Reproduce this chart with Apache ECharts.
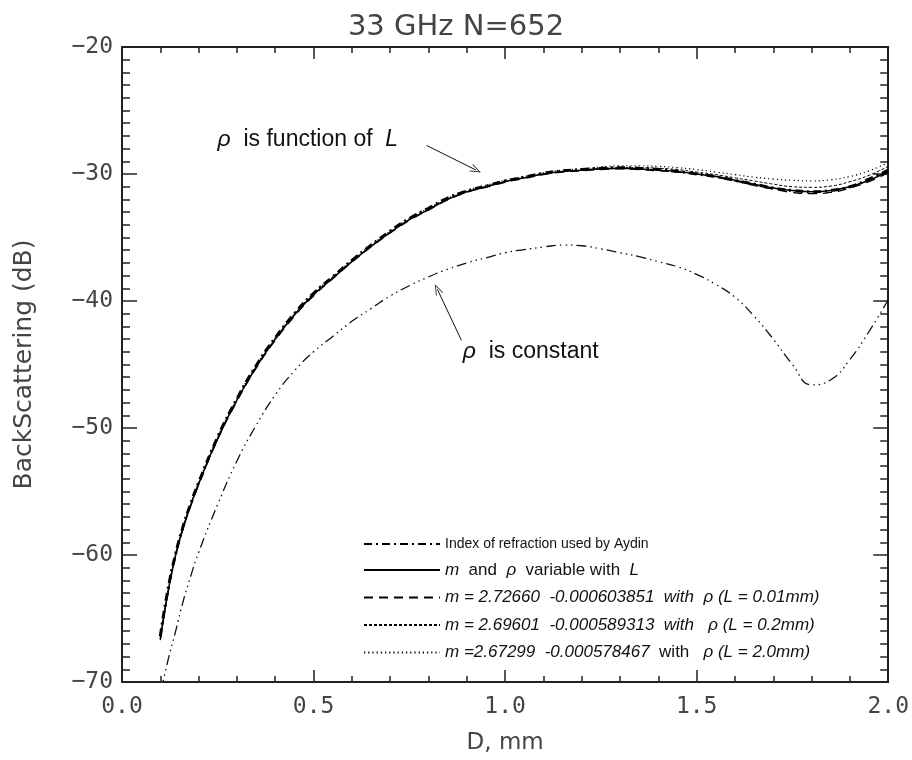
<!DOCTYPE html>
<html><head><meta charset="utf-8">
<script src="https://cdn.jsdelivr.net/npm/echarts@6/dist/echarts.min.js"></script>
<style>html,body{margin:0;padding:0;background:#fff}#c{width:912px;height:760px}</style>
</head><body><div id="c"></div>
<script>
// D (mm)
const dValues = [0.10,0.12,0.14,0.16,0.18,0.20,0.25,0.30,0.35,0.40,0.45,0.50,0.55,0.60,0.65,0.70,0.75,0.80,0.85,0.90,0.95,1.00,1.05,1.10,1.15,1.20,1.25,1.30,1.35,1.40,1.45,1.50,1.55,1.60,1.65,1.70,1.75,1.80,1.85,1.90,1.95,2.00];
// Backscattering (dB)
const aydin      = [-66.4,-62.7,-59.9,-57.7,-55.9,-54.3,-50.7,-47.7,-45.1,-42.9,-41.0,-39.4,-38.1,-36.8,-35.6,-34.5,-33.5,-32.7,-31.9,-31.35,-30.95,-30.55,-30.25,-29.95,-29.75,-29.65,-29.55,-29.5,-29.55,-29.65,-29.8,-30.0,-30.2,-30.5,-30.8,-31.1,-31.3,-31.4,-31.3,-31.0,-30.4,-29.7];
const variableL  = [-66.6,-62.9,-60.0,-57.8,-56.0,-54.4,-50.8,-47.8,-45.2,-43.0,-41.1,-39.5,-38.2,-36.9,-35.7,-34.6,-33.6,-32.8,-32.0,-31.4,-31.0,-30.6,-30.3,-30.0,-29.8,-29.7,-29.6,-29.55,-29.6,-29.7,-29.8,-30.0,-30.2,-30.5,-30.8,-31.1,-31.3,-31.4,-31.3,-31.0,-30.5,-29.8];
const fixedL001  = [-66.7,-63.0,-60.1,-57.9,-56.1,-54.5,-50.9,-47.9,-45.3,-43.1,-41.2,-39.6,-38.25,-36.95,-35.75,-34.65,-33.65,-32.85,-32.05,-31.45,-31.05,-30.65,-30.35,-30.05,-29.85,-29.75,-29.65,-29.6,-29.65,-29.75,-29.85,-30.0,-30.25,-30.55,-30.9,-31.2,-31.45,-31.55,-31.45,-31.1,-30.6,-29.9];
const fixedL02   = [-66.6,-62.9,-60.0,-57.8,-56.0,-54.4,-50.8,-47.8,-45.2,-43.0,-41.1,-39.5,-38.2,-36.9,-35.7,-34.6,-33.6,-32.8,-32.0,-31.4,-31.0,-30.6,-30.3,-30.0,-29.8,-29.7,-29.55,-29.5,-29.5,-29.55,-29.65,-29.85,-30.05,-30.3,-30.55,-30.8,-31.0,-31.05,-30.95,-30.6,-30.1,-29.4];
const fixedL20   = [-66.5,-62.8,-59.9,-57.7,-55.9,-54.3,-50.7,-47.7,-45.1,-42.9,-41.0,-39.4,-38.1,-36.8,-35.6,-34.5,-33.5,-32.7,-31.9,-31.3,-30.9,-30.5,-30.2,-29.9,-29.7,-29.6,-29.45,-29.35,-29.35,-29.4,-29.5,-29.65,-29.85,-30.05,-30.25,-30.4,-30.5,-30.55,-30.45,-30.2,-29.75,-29.1];
const rhoConstant= [-71.0,-68.3,-66.0,-63.6,-61.6,-59.8,-56.0,-52.6,-49.8,-47.4,-45.5,-44.0,-42.8,-41.6,-40.6,-39.6,-38.8,-38.1,-37.5,-37.0,-36.6,-36.2,-35.95,-35.75,-35.6,-35.65,-35.9,-36.2,-36.5,-36.9,-37.3,-37.9,-38.7,-39.7,-41.2,-43.0,-45.0,-46.6,-46.2,-44.6,-42.4,-39.9];

const xRange = [0, 2.0];
const yRange = [-70, -20];
const legendNames = ['aydin','variable','L001','L02','L20'];

function pairs(ys){ return dValues.map((d,i)=>[d, ys[i]]); }

const chart = echarts.init(document.getElementById('c'), null, {renderer:'canvas'});
const FONT = 'Liberation Sans';
const TICKFONT = 'DejaVu Sans Mono';
const axisCommon = {
  type:'value', splitLine:{show:false},
  axisLine:{onZero:false, lineStyle:{color:'#222', width:2}},
  axisTick:{inside:true, lineStyle:{color:'#222', width:1.5}},
  minorTick:{show:true, lineStyle:{color:'#222', width:1.5}},
  minorSplitLine:{show:false}
};
const rhoSym = '\u03c1';
const chevron = 'path://M5,0 L10,10 L9,10 L5,2 L1,10 L0,10 Z';

chart.setOption({
  animation:false,
  backgroundColor:'#fff',
  title:{text:'33 GHz N=652', left:'center', top:8, textStyle:{fontFamily:'DejaVu Sans', fontSize:29, fontWeight:'normal', color:'#444'}},
  grid:{left:122, right:21, top:47, bottom:68},
  xAxis:[
    Object.assign({}, axisCommon, {min:xRange[0], max:xRange[1], interval:0.5, position:'bottom',
      name:'D, mm', nameLocation:'middle', nameGap:50, nameTextStyle:{fontFamily:'DejaVu Sans', fontSize:23, color:'#444'},
      axisTick:Object.assign({}, axisCommon.axisTick, {length:12}),
      minorTick:Object.assign({}, axisCommon.minorTick, {splitNumber:5, length:6}),
      axisLabel:{fontFamily:TICKFONT, fontSize:23, color:'#444', margin:14, formatter:v=>v.toFixed(1)}}),
    Object.assign({}, axisCommon, {min:xRange[0], max:xRange[1], interval:0.5, position:'top',
      axisTick:Object.assign({}, axisCommon.axisTick, {length:12}),
      minorTick:Object.assign({}, axisCommon.minorTick, {splitNumber:5, length:6}),
      axisLabel:{show:false}})
  ],
  yAxis:[
    Object.assign({}, axisCommon, {min:yRange[0], max:yRange[1], interval:10, position:'left',
      name:'BackScattering (dB)', nameLocation:'middle', nameGap:85, nameTextStyle:{fontFamily:'DejaVu Sans', fontSize:25, color:'#444'},
      axisTick:Object.assign({}, axisCommon.axisTick, {length:15}),
      minorTick:Object.assign({}, axisCommon.minorTick, {splitNumber:10, length:8}),
      axisLabel:{fontFamily:TICKFONT, fontSize:23, color:'#444', margin:9, formatter:v=>(v<0?'\u2212':'')+Math.abs(v)}}),
    Object.assign({}, axisCommon, {min:yRange[0], max:yRange[1], interval:10, position:'right',
      axisTick:Object.assign({}, axisCommon.axisTick, {length:15}),
      minorTick:Object.assign({}, axisCommon.minorTick, {splitNumber:10, length:8}),
      axisLabel:{show:false}})
  ],
  legend:{
    data:legendNames, orient:'vertical', left:358, top:532, itemWidth:76, itemHeight:14, itemGap:10.5,
    selectedMode:false,
    itemStyle:{opacity:0, borderWidth:0},
    textStyle:{fontFamily:FONT, color:'#111', fontSize:17,
      rich:{
        n:{fontFamily:FONT, fontSize:17, color:'#111', lineHeight:20},
        s:{fontFamily:FONT, fontSize:14, color:'#111', lineHeight:20},
        i:{fontFamily:FONT, fontSize:17, fontStyle:'italic', color:'#111', lineHeight:20}
      }},
    formatter:function(name){
      switch(name){
        case 'aydin': return '{s|Index of refraction used by Aydin}';
        case 'variable': return '{i|m}{n|  and  }{i|'+rhoSym+'}{n|  variable with  }{i|L}';
        case 'L001': return '{i|m = 2.72660  -0.000603851  with  '+rhoSym+' (L = 0.01mm)}';
        case 'L02': return '{i|m = 2.69601  -0.000589313  with   '+rhoSym+' (L = 0.2mm)}';
        case 'L20': return '{i|m =2.67299  -0.000578467}{n|  with   }{i|'+rhoSym+' (L = 2.0mm)}';
      }
      return name;
    }
  },
  series:[
    {name:'constant', type:'line', data:pairs(rhoConstant), smooth:0.5, symbol:'none', clip:true,
     itemStyle:{color:'#000'},
     lineStyle:{color:'#111', width:1.3, type:[10,4,1.5,4,1.5,4,1.5,4]},
     markPoint:{silent:true, symbol:'rect', symbolSize:1, itemStyle:{color:'rgba(0,0,0,0)'},
       label:{show:true, position:'right', distance:0, color:'#111', fontFamily:FONT, fontSize:23,
         rich:{r:{fontFamily:FONT, fontSize:23, fontStyle:'italic', color:'#111'}, t:{fontFamily:FONT, fontSize:23, color:'#111'}}},
       data:[
         {coord:[0.248,-27.3], label:{formatter:'{r|'+rhoSym+'}{t|  is function of  }{r|L}'}},
         {coord:[0.888,-44.0], label:{formatter:'{r|'+rhoSym+'}{t|  is constant}'}}
       ]},
     markLine:{silent:true, symbol:['none', chevron], symbolSize:[8,11], label:{show:false},
       lineStyle:{color:'#111', width:1, type:'solid'},
       data:[
         [{coord:[0.795,-27.75]},{coord:[0.924,-29.69]}],
         [{coord:[0.886,-43.1]},{coord:[0.823,-39.07]}]
       ]}
    },
    {name:'aydin', type:'line', data:pairs(aydin), smooth:0.5, symbol:'none', itemStyle:{color:'#000'},
     lineStyle:{color:'#000', width:3, type:[8,4,2,4]}},
    {name:'variable', type:'line', data:pairs(variableL), smooth:0.5, symbol:'none', itemStyle:{color:'#000'},
     lineStyle:{color:'#000', width:1.5, type:'solid'}},
    {name:'L001', type:'line', data:pairs(fixedL001), smooth:0.5, symbol:'none', itemStyle:{color:'#000'},
     lineStyle:{color:'#000', width:1.3, type:[9,6]}},
    {name:'L02', type:'line', data:pairs(fixedL02), smooth:0.5, symbol:'none', itemStyle:{color:'#000'},
     lineStyle:{color:'#000', width:1, type:[3,2]}},
    {name:'L20', type:'line', data:pairs(fixedL20), smooth:0.5, symbol:'none', itemStyle:{color:'#000'},
     lineStyle:{color:'#000', width:1.2, type:[1.2,3]}}
  ]
});
</script></body></html>
